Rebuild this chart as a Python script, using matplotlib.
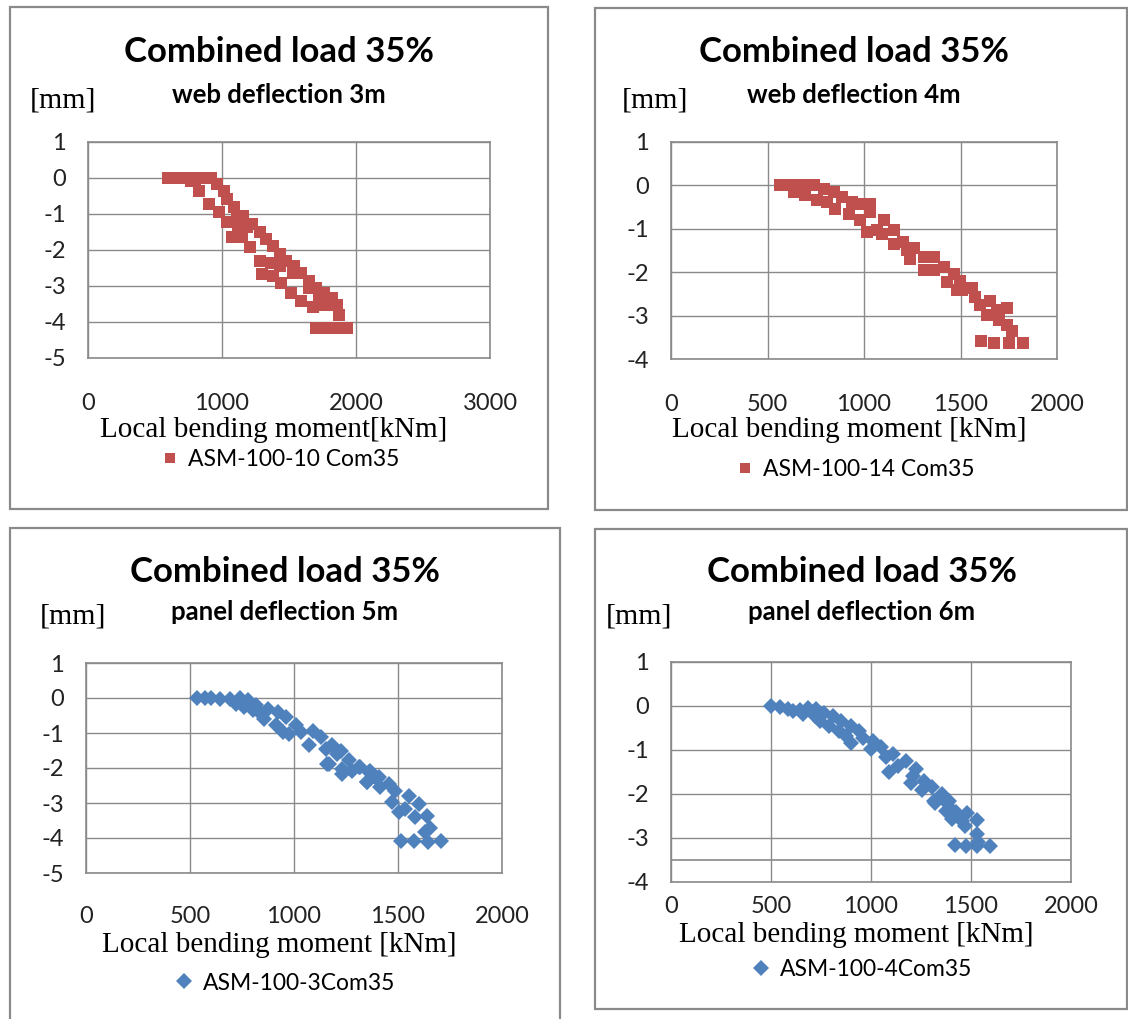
import matplotlib.pyplot as plt
from matplotlib.patches import Rectangle

# --- data ---
titles = ["Combined load 35%"] * 4
subtitles = ["web deflection 3m", "web deflection 4m",
             "panel deflection 5m", "panel deflection 6m"]
xlabels = ["Local bending moment[kNm]", "Local bending moment [kNm]",
           "Local bending moment [kNm]", "Local bending moment [kNm]"]
series_names = ["ASM-100-10 Com35", "ASM-100-14 Com35",
                "ASM-100-3Com35", "ASM-100-4Com35"]

x_ticks_1 = [0, 1000, 2000, 3000]
y_ticks_1 = [1, 0, -1, -2, -3, -4, -5]
x_ticks_2 = [0, 500, 1000, 1500, 2000]
y_ticks_2 = [1, 0, -1, -2, -3, -4]

# ASM-100-10 Com35 (web deflection 3m)
m10 = [600, 640, 680, 720, 760, 800, 840, 880, 920, 963, 1012, 1037, 1086, 1160,
       1221, 1282, 1332, 1380, 1430, 1480, 1540, 1590, 1650, 1700, 1762, 1823,
       1860, 1872, 1934, 767, 828, 902, 975, 1037, 1074, 1147, 1209, 1282, 1295,
       1380, 1442, 1516, 1590, 1676, 1762, 1823, 1700, 1786, 1860, 1110, 1123,
       1184, 1368, 1430, 1528, 1650, 1724, 1786]
d10 = [0, 0, 0, 0, 0, -0.02, 0, 0, 0, -0.16, -0.35, -0.58, -0.81, -1.05,
       -1.28, -1.51, -1.70, -1.89, -2.12, -2.31, -2.45, -2.64, -2.87, -3.06, -3.2, -3.34,
       -3.52, -3.8, -4.16, -0.07, -0.35, -0.72, -0.95, -1.23, -1.65, -1.65, -1.93, -2.31, -2.68,
       -2.73, -2.92, -3.2, -3.43, -3.57, -3.52, -3.52, -4.16, -4.16, -4.16, -1.14, -1.42,
       -1.37, -2.36, -2.45, -2.64, -3.06, -3.24, -3.48]

# ASM-100-14 Com35 (web deflection 4m)
m14 = [566, 609, 652, 695, 742, 791, 635, 695, 756, 808, 842, 886, 851, 920, 938,
       981, 1033, 1033, 981, 1015, 1067, 1102, 1093, 1154, 1154, 1223, 1240, 1310,
       1310, 1361, 1361, 1413, 1431, 1465, 1483, 1200, 1260, 1498, 1507, 1559, 1576,
       1602, 1654, 1689, 1740, 1637, 1697, 1740, 1766, 1607, 1676, 1752, 1823]
d14 = [0, 0, 0, 0, 0, -0.08, -0.15, -0.23, -0.34, -0.38, -0.15, -0.27, -0.54, -0.65, -0.38,
       -0.42, -0.42, -0.61, -0.8, -1.07, -1.03, -0.8, -1.11, -1.03, -1.34, -1.49, -1.69, -1.65,
       -1.95, -1.65, -1.95, -1.88, -2.22, -2.03, -2.41, -1.3, -1.45, -2.21, -2.40, -2.37, -2.56,
       -2.75, -2.67, -2.86, -2.82, -2.98, -3.09, -3.21, -3.36, -3.59, -3.64, -3.64, -3.64]

# ASM-100-3Com35 (panel deflection 5m)
m3 = [533, 570, 602, 642, 690, 738, 722, 778, 762, 818, 802, 842, 874, 858, 922, 914,
      962, 946, 978, 1010, 1034, 1074, 1089, 1130, 1153, 1185, 1161, 1225, 1233, 1265,
      1313, 1353, 1361, 1401, 1207, 1167, 1231, 1279, 1319, 1367, 1351, 1407, 1415,
      1455, 1487, 1471, 1551, 1599, 1503, 1535, 1583, 1639, 1655, 1631, 1514, 1575,
      1643, 1708]
d3 = [0, 0, 0, -0.02, -0.02, 0, -0.16, -0.07, -0.26, -0.21, -0.35, -0.45, -0.31, -0.59, -0.4, -0.78,
      -0.54, -0.97, -1.02, -0.78, -0.97, -1.35, -0.93, -1.12, -1.45, -1.35, -1.88, -1.50, -2.02, -1.78,
      -1.98, -2.40, -2.12, -2.31, -1.6, -1.89, -2.17, -2.08, -1.98, -2.08, -2.41, -2.27, -2.55,
      -2.46, -2.65, -2.98, -2.79, -3.03, -3.27, -3.17, -3.41, -3.36, -3.70, -3.84, -4.08, -4.08,
      -4.10, -4.08]

# ASM-100-4Com35 (panel deflection 6m)
m4 = [500, 543, 585, 610, 643, 684, 659, 726, 718, 767, 743, 809, 792, 850, 842, 900,
      875, 900, 942, 958, 1008, 1000, 1050, 1075, 1108, 1091, 1133, 1174, 1208, 1224,
      1199, 1266, 1257, 1307, 1316, 1357, 1390, 1374, 1407, 1424, 1454, 1470, 1478,
      1528, 1528, 1537, 1420, 1475, 1528, 1595, 1321, 1379, 1412]
d4 = [0, -0.02, -0.06, -0.11, -0.08, -0.04, -0.19, -0.06, -0.23, -0.15, -0.34, -0.23, -0.45, -0.34,
      -0.57, -0.45, -0.68, -0.83, -0.57, -0.72, -0.79, -0.98, -0.94, -1.17, -1.09, -1.51, -1.36, -1.25,
      -1.58, -1.43, -1.74, -1.70, -1.92, -1.85, -2.15, -2.0, -2.15, -2.38, -2.57, -2.42, -2.62, -2.73,
      -2.43, -2.58, -2.92, -3.08, -3.15, -3.19, -3.19, -3.19, -2.2, -2.2, -2.39]

RED = "#C0504D"
BLUE = "#4F81BD"
GRID = "#8a8a8a"
W, H = 1128, 1019

plt.rcParams['font.family'] = ['Lato', 'DejaVu Sans']
plt.rcParams['axes.unicode_minus'] = False
fig = plt.figure(figsize=(W / 100, H / 100), dpi=100)


def frac_rect(x0, y0, x1, y1):
    # pixel box (top-left origin) -> figure fraction [l, b, w, h]
    return [x0 / W, 1 - y1 / H, (x1 - x0) / W, (y1 - y0) / H]


# outer chart boxes
boxes = [(10, 7, 548, 509), (595, 8, 1127, 510),
         (10, 528, 560, 1025), (595, 529, 1127, 1009)]
for b in boxes:
    l, bt, w, h = frac_rect(*b)
    fig.patches.append(Rectangle((l, bt), w, h, transform=fig.transFigure,
                                 fill=False, edgecolor=GRID, linewidth=1.6))

panels = [
    dict(x=m10, y=d10, rect=(88, 142, 490, 358), xt=x_ticks_1, yt=y_ticks_1,
         xlim=(0, 3000), ylim=(-5, 1), marker="s", ms=8.5, color=RED,
         cx=279, ty=52, sy=95, mm=(30, 100), xl_y=430, lg=(280, 460), xpad=25),
    dict(x=m14, y=d14, rect=(671, 142, 1057, 359), xt=x_ticks_2, yt=y_ticks_2,
         xlim=(0, 2000), ylim=(-4, 1), marker="s", ms=8.5, color=RED,
         cx=854, ty=52, sy=95, mm=(622, 100), xl_y=430, lg=(855, 470), xpad=25),
    dict(x=m3, y=d3, rect=(86, 663, 502, 873), xt=x_ticks_2, yt=y_ticks_1,
         xlim=(0, 2000), ylim=(-5, 1), marker="D", ms=8.5, color=BLUE,
         cx=285, ty=572, sy=612, mm=(40, 617), xl_y=945, lg=(285, 983), xpad=24),
    dict(x=m4, y=d4, rect=(671, 662, 1071, 882), xt=x_ticks_2, yt=y_ticks_2,
         xlim=(0, 2000), ylim=(-4, 1), marker="D", ms=8.5, color=BLUE,
         cx=862, ty=572, sy=612, mm=(606, 617), xl_y=935, lg=(862, 970), xpad=10),
]

for i, p in enumerate(panels):
    ax = fig.add_axes(frac_rect(*p["rect"]))
    ax.plot(p["x"], p["y"], linestyle="none", marker=p["marker"], ms=p["ms"],
            color=p["color"], markeredgewidth=0, label=series_names[i])
    ax.set_xlim(*p["xlim"])
    ax.set_ylim(*p["ylim"])
    ax.set_xticks(p["xt"])
    ax.set_yticks(p["yt"])
    ax.grid(True, color=GRID, linewidth=1.0)
    ax.set_axisbelow(True)
    for s in ax.spines.values():
        s.set_color(GRID)
        s.set_linewidth(1.2)
    ax.tick_params(axis="both", length=0, labelsize=17, colors="#222222")
    ax.tick_params(axis="y", pad=16)
    ax.tick_params(axis="x", pad=p["xpad"])
    if i == 3:
        ax.axhline(-3.5, color=GRID, linewidth=1.2)

    fig.text(p["cx"] / W, 1 - p["ty"] / H, titles[i], ha="center", va="center",
             fontsize=25, fontweight="bold")
    fig.text(p["cx"] / W, 1 - p["sy"] / H, subtitles[i], ha="center", va="center",
             fontsize=18.5, fontweight="bold")
    fig.text(p["mm"][0] / W, 1 - p["mm"][1] / H, "[mm]", ha="left", va="center",
             fontsize=21.5, family="Liberation Serif")
    fig.text(((p["rect"][0] + p["rect"][2]) / 2 - 15) / W, 1 - p["xl_y"] / H, xlabels[i],
             ha="center", va="center", fontsize=21, family="Liberation Serif")
    ax.legend(loc="center", bbox_to_anchor=(p["lg"][0] / W, 1 - p["lg"][1] / H),
              bbox_transform=fig.transFigure, frameon=False, fontsize=16.5,
              handlelength=0.8, handletextpad=0.4, markerscale=0.9)

fig.savefig("out.png", dpi=100)
